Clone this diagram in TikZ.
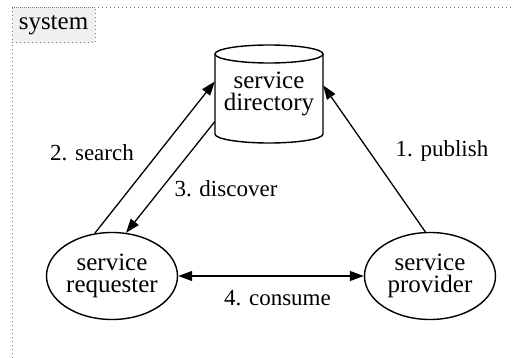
\documentclass[tikz,border=0pt]{standalone}
\usepackage{fontspec}
\setmainfont{Liberation Serif}
\usetikzlibrary{arrows.meta,shapes.geometric}
\begin{document}
\begin{tikzpicture}[x=1pt,y=-1pt,
  every node/.style={inner sep=0pt},
  nodetext/.style={font=\fontsize{25}{22.5}\selectfont, align=center},
  elab/.style={font=\fontsize{23}{25}\selectfont},
  ell/.style={draw, ellipse, line width=1.4pt, minimum width=131pt, minimum height=87pt, nodetext},
  conn/.style={line width=1.3pt, -{Triangle[length=14pt,width=10pt]}},
  both/.style={line width=1.3pt, {Triangle[length=14pt,width=10pt]}-{Triangle[length=14pt,width=10pt]}},
  framed/.style={draw=black!55, line width=1pt, dash pattern=on 1.3pt off 2.7pt},
  cyl/.style={line width=1.4pt}
]
\useasboundingbox (0,0) rectangle (512,358);
% frame
\draw[framed] (12,358) |- (512,8);
\node[framed, fill=black!6, minimum width=83pt, minimum height=35pt, font=\fontsize{25}{25}\selectfont] (sys) at (53.5,25.5) {system};
% cylinder outline
\draw[cyl] (215,54) -- (215,134) arc[start angle=180, end angle=360, x radius=54pt, y radius=9pt] -- (323,54);
\draw[cyl] (269,54) ellipse [x radius=54pt, y radius=9pt];
\node[nodetext, minimum width=108pt, minimum height=98pt] (dir) at (269,94) {service\\directory};
% ellipses
\node[ell] (req) at (112,276) {service\\requester};
\node[ell] (prov) at (430,276) {service\\provider};
% connectors
\draw[conn] (prov.96.6) -- (dir.9.5);
\draw[conn] (req.112) -- (dir.167.5);
\draw[conn] (dir.207.4) -- (req.72.8);
\draw[both] (req.east) -- (prov.west);
% labels
\node[elab] (l1) at (442,151) {1. publish};
\node[elab] (l2) at (92,153) {2. search};
\node[elab] (l3) at (226,189) {3. discover};
\node[elab] (l4) at (277.5,298) {4. consume};
\end{tikzpicture}
\end{document}
